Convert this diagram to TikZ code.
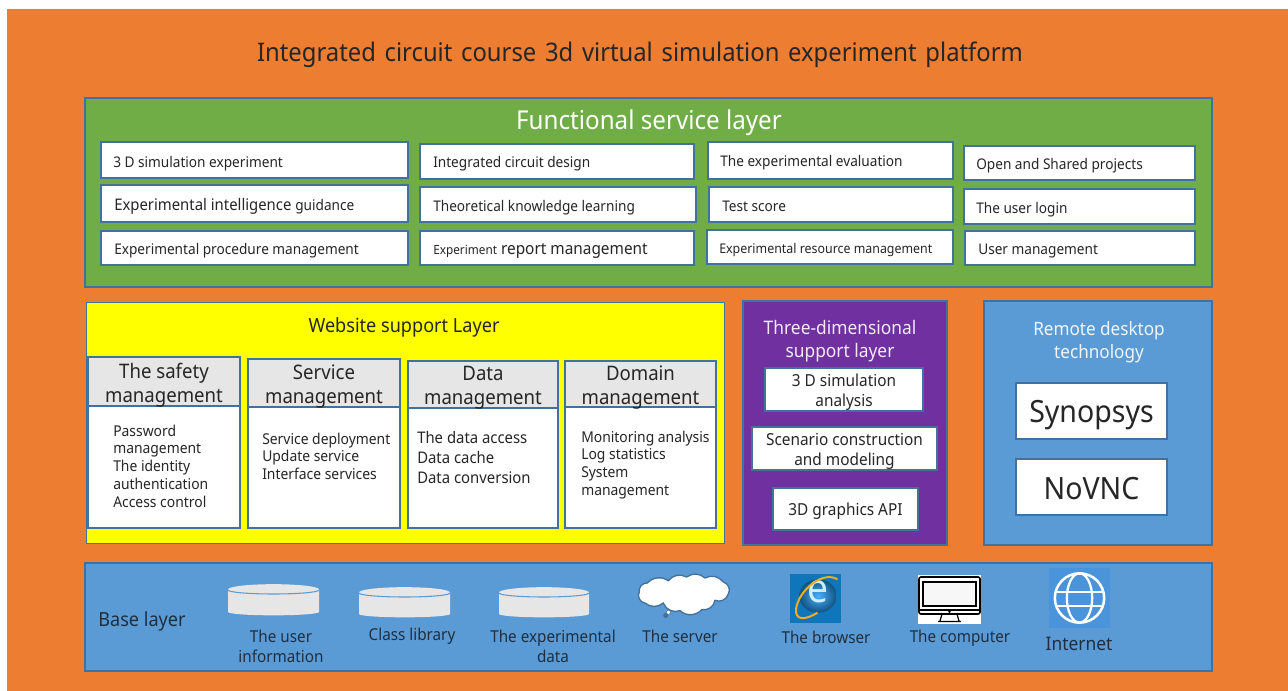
\documentclass[tikz,border=0pt]{standalone}
\usepackage{fontspec}
\setmainfont[FakeStretch=0.93]{Noto Sans}
\usetikzlibrary{shapes.geometric}
\definecolor{orangebg}{HTML}{ED7D31}
\definecolor{greenbg}{HTML}{70AD47}
\definecolor{bluebg}{HTML}{5B9BD5}
\definecolor{purplebg}{HTML}{7030A0}
\definecolor{edge}{HTML}{41719C}
\definecolor{headgray}{HTML}{E7E6E6}
\definecolor{ink}{HTML}{262626}
\definecolor{navy}{HTML}{1F2F40}
\definecolor{pureyellow}{HTML}{FFFF00}
\definecolor{iebg}{HTML}{0F76BC}
\definecolor{ieball}{HTML}{14689F}
\definecolor{iegold}{HTML}{EDAE1E}
\definecolor{netbg}{HTML}{4A94DC}
\newcommand{\fz}[2]{\fontsize{#1}{#2}\selectfont}
\newcommand{\tshift}{-1.5pt}
\newcommand{\bx}[7]{%
  \pgfmathsetmacro\bw{(#5-#3)*0.75}\pgfmathsetmacro\bh{(#6-#4)*0.75}%
  \node[#2,minimum width=\bw pt,minimum height=\bh pt,anchor=north west] (#1) at (#3,#4) {};
  \node[#2,draw=none,fill=none,inner sep=0pt,yshift=\tshift] (#1t) at (#1.center) {#7};}
\tikzset{
  x=0.75pt,y=-0.75pt,
  panel/.style={draw=edge,line width=1.1pt,inner sep=0pt,outer sep=0pt},
  item/.style={panel,fill=white},
  head/.style={panel,fill=headgray,text=ink,align=center,font=\fz{15}{17.8}},
  lab/.style={anchor=west,inner sep=0pt,text=ink,yshift=-1.5pt,font=\fz{11}{13}},
  listing/.style={anchor=north west,inner sep=0pt,text=ink,align=left,yshift=-1.2pt,font=\fz{11.2}{13.3}},
  boxtext/.style={item,align=center,text=ink,font=\fz{12.4}{15}},
  base/.style={inner sep=0pt,text=navy,align=center,yshift=-0.4pt,font=\fz{12.3}{15}},
  disk/.style={fill=headgray},
}
\newcommand{\disk}[5]{% name x1 x2 ytop ybottom
  \pgfmathsetmacro\rx{(#3-#2)/2*0.75}\pgfmathsetmacro\mx{(#3+#2)/2}
  \fill[disk] (#2,#4+6) -- (#2,#5-3) arc[start angle=180,end angle=360,x radius=\rx pt,y radius=2.5pt] -- (#3,#4+6) -- cycle;
  \pgfmathsetmacro\dw{2*\rx}
  \node[disk,shape=ellipse,inner sep=0pt,minimum width=\dw pt,minimum height=8pt] (#1) at (\mx,#4+5.5) {};
  \draw[bluebg,line width=0.8pt] (#2,#4+6) arc[start angle=180,end angle=360,x radius=\rx pt,y radius=3pt];
}
\begin{document}
\begin{tikzpicture}
\useasboundingbox (0,0) rectangle (1288,691);
\fill[white] (0,0) rectangle (1288,691);
\bx{page}{draw=edge!70!white,line width=1pt,fill=orangebg,inner sep=0pt}{7}{9}{1290}{693}{}
\node[inner sep=0pt,text=black!85,yshift=-2.2pt,font=\fz{19.2}{22}] (title) at (640,52) {\spaceskip=0.34em Integrated circuit course 3d virtual simulation experiment platform};

% Functional service layer
\bx{fsl}{panel,fill=greenbg}{85}{98}{1212}{287}{}
\node[inner sep=0pt,text=white,yshift=-2pt,font=\fz{19.5}{22}] (fsltitle) at (649,120) {Functional service layer};

\bx{a1}{item}{101}{142}{408}{178}{}
\node[lab] (a1l) at (113,162) {3 D simulation experiment};
\bx{a2}{item}{101}{185}{408}{222}{}
\node[lab,font=\fz{12}{14}] (a2l) at (114,204) {Experimental intelligence {\fz{11}{13}guidance}};
\bx{a3}{item}{101}{231}{408}{265}{}
\node[lab] (a3l) at (114,249) {Experimental procedure management};

\bx{b1}{item}{420}{144}{694}{179}{}
\node[lab] (b1l) at (433,162) {Integrated circuit design};
\bx{b2}{item}{420}{187}{696}{222}{}
\node[lab] (b2l) at (433,206) {Theoretical knowledge learning};
\bx{b3}{item}{420}{231}{694}{265}{}
\node[lab,font=\fz{12.4}{14}] (b3l) at (433,249) {{\fz{9.5}{12}Experiment} report management};

\bx{c1}{item}{708}{142}{953}{179}{}
\node[lab] (c1l) at (720,161) {The experimental evaluation};
\bx{c2}{item}{709}{187}{953}{222}{}
\node[lab] (c2l) at (722,204.5) {Test score};
\bx{c3}{item}{707}{230}{953}{264}{}
\node[lab,font=\fz{10}{12}] (c3l) at (719,248) {Experimental resource management};

\bx{d1}{item}{964}{146}{1195}{180}{}
\node[lab] (d1l) at (976,164) {Open and Shared projects};
\bx{d2}{item}{964}{189}{1195}{224}{}
\node[lab] (d2l) at (976,208) {The user login};
\bx{d3}{item}{965}{231}{1195}{265}{}
\node[lab] (d3l) at (978,249) {User management};

% Website support layer
\bx{wsl}{draw=edge,line width=1.1pt,fill=pureyellow,inner sep=0pt}{86}{302}{724}{543}{}
\node[inner sep=0pt,text=ink,yshift=-1.5pt,font=\fz{14.6}{16}] (wsltitle) at (404,325) {Website support Layer};

\renewcommand{\tshift}{-2.6pt}
\bx{s1b}{item}{88}{406}{240}{528}{}
\bx{s1h}{head}{88}{357}{240}{406}{The safety\\management}
\node[listing] (s1l) at (113,423) {Password\\management\\The identity\\authentication\\Access control};
\bx{s2b}{item}{248}{407}{400}{528}{}
\bx{s2h}{head}{248}{359}{400}{407}{Service\\management}
\node[listing] (s2l) at (262,431) {Service deployment\\Update service\\Interface services};
\bx{s3b}{item}{408}{408}{558}{528}{}
\bx{s3h}{head}{408}{361}{558}{408}{Data\\management}
\node[listing,font=\fz{12}{15}] (s3l) at (417,429) {The data access\\Data cache\\Data conversion};
\bx{s4b}{item}{565}{407}{716}{528}{}
\bx{s4h}{head}{565}{361}{716}{407}{Domain\\management}
\node[listing] (s4l) at (581,429) {Monitoring analysis\\Log statistics\\System\\management};
\renewcommand{\tshift}{-1.5pt}

% Three-dimensional support layer
\bx{tds}{panel,fill=purplebg}{743}{301}{947}{545}{}
\node[inner sep=0pt,text=white!90!purplebg,align=center,yshift=-1.5pt,font=\fz{14}{17.3}] (tdstitle) at (840,339) {Three-dimensional\\support layer};
\renewcommand{\tshift}{-2pt}
\bx{q1}{boxtext}{765}{368}{923}{411}{3 D simulation\\analysis}
\bx{q2}{boxtext}{752}{427}{937}{470}{Scenario construction\\and modeling}
\bx{q3}{boxtext}{773}{488}{918}{530}{3D graphics API}

% Remote desktop
\bx{rdt}{panel,fill=bluebg}{984}{301}{1212}{545}{}
\node[inner sep=0pt,text=white!90!bluebg,align=center,yshift=-1.5pt,font=\fz{13.8}{17}] (rdttitle) at (1099,340) {Remote desktop\\technology};
\renewcommand{\tshift}{-3pt}
\bx{r1}{item,text=ink,font=\fz{23}{26}}{1016}{383}{1167}{439}{Synopsys}
\renewcommand{\tshift}{-1.5pt}
\bx{r2}{item,text=ink,font=\fz{23}{26}}{1016}{459}{1167}{515}{NoVNC}

% Base layer
\bx{bl}{panel,fill=bluebg}{85}{563}{1212}{671}{}
\node[inner sep=0pt,text=navy,yshift=-1pt,font=\fz{14.6}{16}] (bltitle) at (142,620) {Base layer};

\disk{u1}{228}{319}{584}{615}
\disk{u2}{359}{450}{587}{617}
\disk{u3}{499}{589}{587}{617}
\node[base] (u1l) at (281,646) {The user\\information};
\node[base] (u2l) at (412,636) {Class library};
\node[base] (u3l) at (553,646) {The experimental\\data};

% server cloud
\draw[edge,line width=1pt,fill=white] (639.3,592) to[bend left=55] (647.3,583) to[bend left=40] (668.3,580.7) to[bend left=40] (686.7,577) to[bend left=40] (705,578) to[bend left=40] (723.3,582) to[bend left=55] (728.3,594) to[bend left=50] (715,600.3) to[bend left=45] (701.7,609.7) to[bend left=45] (680,610.7) to[bend left=45] (663.3,603) to[bend left=40] (645,603) to[bend left=60] cycle;
\node[circle,fill=white,draw=edge,line width=0.4pt,inner sep=0pt,minimum size=3.2pt] (puffa) at (668.3,612.3) {};
\node[circle,fill=edge,inner sep=0pt,minimum size=3.8pt] (puffb) at (665.7,615.5) {};
\node[base] (servl) at (680,636) {The server};

% browser
\bx{ie}{fill=iebg,inner sep=0pt}{790}{574}{841}{623}{}
\shade[inner color=cyan!55!blue!70,outer color=ieball!80!black] (818,596) ellipse[x radius=14pt,y radius=12.5pt];
\node[inner sep=0pt,text=cyan!20!white,font=\fz{30}{30}\bfseries] (iee) at (818,591.5) {e};
\draw[iegold,line width=1.5pt,line cap=round] (837,579) .. controls (820,570) and (795,595) .. (796,612) .. controls (797,621) and (807,619) .. (817,613);
\node[base] (iel) at (826,637) {The browser};

% computer
\bx{pc}{fill=white,inner sep=0pt}{918}{575}{981}{624}{}
\draw[black,line width=1.2pt,rounded corners=1.5pt] (919,577) rectangle (980,614);
\fill[black!3,draw=black,line width=1pt] (923,582) rectangle (976,606);
\draw[black,line width=0.9pt] (919,610) -- (980,610);
\fill[black] (949.5,611.8) circle[radius=1pt];
\draw[black,line width=0.9pt] (942,614) -- (940,621) (957,614) -- (959,621) (938,621.5) -- (961,621.5);
\node[base] (pcl) at (960,638) {The computer};

% internet
\bx{net}{fill=netbg,inner sep=0pt}{1049}{568}{1110}{628}{}
\coordinate (gc) at (1079.5,598);
\draw[white,line width=1.9pt] (gc) circle[radius=18.5pt];
\draw[white,line width=1.7pt] (gc) ellipse[x radius=9.5pt,y radius=18.5pt];
\draw[white,line width=1.7pt] (1057,592) -- (1102,592) (1057,606) -- (1102,606);
\node[base,font=\fz{14}{16}] (netl) at (1079,643) {Internet};
\end{tikzpicture}
\end{document}
